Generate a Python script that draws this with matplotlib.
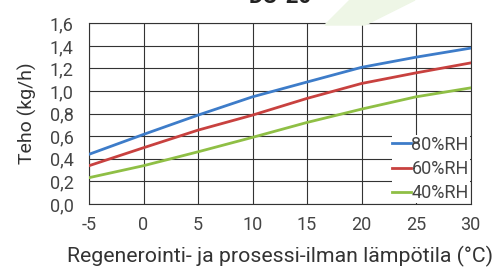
import numpy as np
import matplotlib
matplotlib.use("Agg")
from matplotlib import pyplot as plt
from matplotlib.patches import Polygon

plt.rcParams['font.family'] = ['Roboto', 'DejaVu Sans']

temps = [-5, 0, 5, 10, 15, 20, 25, 30]
rh80 = [0.44, 0.616, 0.787, 0.949, 1.08, 1.21, 1.30, 1.38]
rh60 = [0.339, 0.498, 0.654, 0.787, 0.935, 1.067, 1.161, 1.249]
rh40 = [0.233, 0.339, 0.462, 0.59, 0.722, 0.84, 0.949, 1.028]
labels = ['80%RH', '60%RH', '40%RH']
colors = ['#3d7cc9', '#c8413f', '#8fbf45']

fig = plt.figure(figsize=(4.94, 2.73), dpi=100)
W, H = 494, 273
ax = fig.add_axes([89 / W, 1 - 204 / H, (470.5 - 89) / W, (204 - 23.3) / H])

# faint watermark in the background
wm = Polygon([(325 / W, 1 - 25 / H), (350 / W, 1.0), (415 / W, 1.0), (365 / W, 1 - 25 / H)],
             closed=True, transform=fig.transFigure, color='#eef6e6', zorder=0)
fig.patches.append(wm)

for ys, lab, c in zip([rh80, rh60, rh40], labels, colors):
    ax.plot(temps, ys, color=c, lw=2, label=lab, zorder=3)

ax.set_xlim(-5, 30)
ax.set_ylim(0, 1.6)
ax.set_xticks(temps)
ax.set_xticklabels([str(t) for t in temps])
yt = np.arange(0, 1.61, 0.2)
ax.set_yticks(yt)
ax.set_yticklabels([('%.1f' % v).replace('.', ',') for v in yt])
ax.grid(True, color='#333333', lw=0.8, zorder=1)
for s in ax.spines.values():
    s.set_color('#333333')
    s.set_linewidth(0.8)
ax.tick_params(axis='y', length=0, labelsize=13, colors='#444444', pad=11)
ax.tick_params(axis='x', length=0, labelsize=13, colors='#444444', pad=9)

leg = ax.legend(loc='lower right', frameon=True, fancybox=False, edgecolor='none',
                framealpha=1, fontsize=13, handlelength=1.05, handletextpad=0.0,
                labelspacing=0.35, borderpad=0.05, borderaxespad=0.05)
leg.set_zorder(5)
for t in leg.get_texts():
    t.set_color('#444444')

ax.set_xlabel('Regenerointi- ja prosessi-ilman lämpötila (°C)', fontsize=15.3,
              color='#333333', labelpad=8)
ax.set_ylabel('Teho (kg/h)', fontsize=14, color='#333333', labelpad=9)

fig.text(280 / W, 1 - 3 / H, 'DC-20', ha='center', va='baseline', fontsize=16,
         fontweight='bold', color='#222222')

plt.savefig('out.png', dpi=100)
